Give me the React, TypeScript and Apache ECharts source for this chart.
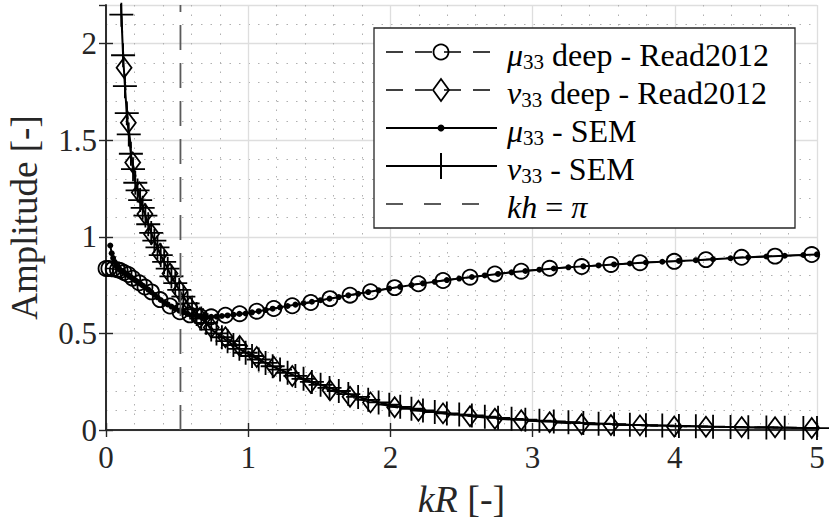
import React, { useEffect, useRef } from "react";
import * as echarts from "echarts";

// ---- data ----
const readX = [0, 0.02, 0.05, 0.08, 0.10, 0.127, 0.157, 0.188, 0.234, 0.274, 0.32, 0.38, 0.45, 0.52, 0.59, 0.66, 0.74, 0.84, 0.94, 1.06, 1.18, 1.31, 1.44, 1.575, 1.716, 1.86, 2.03, 2.197, 2.37, 2.56, 2.735, 2.92, 3.12, 3.345, 3.551, 3.755, 3.996, 4.219, 4.47, 4.705, 4.963];
const readMu = [0.836, 0.836, 0.834, 0.83, 0.826, 0.815, 0.805, 0.786, 0.762, 0.74, 0.715, 0.675, 0.642, 0.612, 0.596, 0.588, 0.586, 0.594, 0.602, 0.615, 0.629, 0.643, 0.66, 0.68, 0.698, 0.716, 0.737, 0.757, 0.774, 0.791, 0.808, 0.822, 0.837, 0.846, 0.857, 0.866, 0.873, 0.882, 0.894, 0.9, 0.908];
const readNu = [null, 8.0, 4.2, 2.9, 2.3, 1.875, 1.59, 1.385, 1.23, 1.118, 1.015, 0.912, 0.81, 0.72, 0.636, 0.58, 0.53, 0.48, 0.435, 0.378, 0.327, 0.28, 0.245, 0.206, 0.172, 0.143, 0.118, 0.10, 0.086, 0.071, 0.058, 0.05, 0.04, 0.03, 0.026, 0.024, 0.018, 0.017, 0.015, 0.014, 0.01];

const semX = [0.030, 0.040, 0.050, 0.060, 0.072, 0.084, 0.096, 0.108, 0.120, 0.133, 0.146, 0.160, 0.175, 0.190, 0.206, 0.222, 0.240, 0.258, 0.277, 0.297, 0.318, 0.340, 0.362, 0.385, 0.409, 0.434, 0.460, 0.487, 0.515, 0.544, 0.574, 0.605, 0.637, 0.670, 0.704, 0.740, 0.777, 0.815, 0.855, 0.896, 0.938, 0.982, 1.027, 1.074, 1.122, 1.172, 1.224, 1.277, 1.332, 1.389, 1.448, 1.509, 1.572, 1.637, 1.704, 1.773, 1.844, 1.917, 1.992, 2.069, 2.148, 2.229, 2.312, 2.397, 2.484, 2.573, 2.664, 2.757, 2.852, 2.949, 3.048, 3.149, 3.252, 3.357, 3.464, 3.573, 3.684, 3.797, 3.912, 4.029, 4.148, 4.269, 4.392, 4.517, 4.644, 4.773, 4.904, 5.0];
const semMu = [0.955, 0.915, 0.89, 0.87, 0.85, 0.838, 0.83, 0.824, 0.818, 0.812, 0.806, 0.799, 0.791, 0.783, 0.775, 0.767, 0.758, 0.748, 0.738, 0.727, 0.714, 0.700, 0.687, 0.673, 0.661, 0.650, 0.639, 0.628, 0.618, 0.609, 0.601, 0.595, 0.590, 0.587, 0.586, 0.586, 0.587, 0.590, 0.593, 0.597, 0.601, 0.603, 0.609, 0.615, 0.621, 0.628, 0.635, 0.642, 0.649, 0.656, 0.664, 0.672, 0.680, 0.688, 0.697, 0.705, 0.714, 0.723, 0.732, 0.741, 0.750, 0.759, 0.767, 0.776, 0.784, 0.792, 0.800, 0.808, 0.816, 0.823, 0.830, 0.836, 0.842, 0.847, 0.852, 0.857, 0.862, 0.867, 0.871, 0.875, 0.879, 0.884, 0.889, 0.894, 0.898, 0.902, 0.906, 0.909];
const semNu = [7.5, 5.6, 4.5, 3.8, 3.2, 2.75, 2.42, 2.15, 1.94, 1.78, 1.64, 1.53, 1.43, 1.35, 1.28, 1.24, 1.19, 1.15, 1.11, 1.065, 1.02, 0.98, 0.945, 0.905, 0.87, 0.835, 0.795, 0.76, 0.725, 0.69, 0.655, 0.625, 0.60, 0.577, 0.555, 0.52, 0.50, 0.48, 0.46, 0.44, 0.42, 0.40, 0.383, 0.365, 0.347, 0.33, 0.313, 0.296, 0.28, 0.265, 0.249, 0.234, 0.218, 0.202, 0.186, 0.171, 0.156, 0.143, 0.131, 0.12, 0.11, 0.101, 0.093, 0.086, 0.08, 0.075, 0.069, 0.063, 0.058, 0.053, 0.048, 0.044, 0.04, 0.036, 0.033, 0.030, 0.027, 0.025, 0.023, 0.021, 0.019, 0.017, 0.016, 0.014, 0.013, 0.012, 0.011, 0.010];

const khValue = [0.5236]; // kh = pi  ->  kR = pi/6
const khRange = [0, 2.2];

const xTicks = { min: 0, max: 5, interval: 1 };
const yTicks = { min: 0, max: 2.2, interval: 0.5 };

const legendNames = [
  "μ33 deep - Read2012",
  "ν33 deep - Read2012",
  "μ33 - SEM",
  "ν33 - SEM",
  "kh = π",
];

const FONT = "Liberation Serif";
const INK = "#262626";

function zip(xs: number[], ys: (number | null)[]) {
  return xs.map((x, i) => [x, ys[i]]);
}

export default function App() {
  const ref = useRef<HTMLDivElement>(null);

  useEffect(() => {
    if (!ref.current) return;
    const chart = echarts.init(ref.current, null, { renderer: "svg" });

    const plusPath = "path://M12,0 L12,24 M0,12 L24,12";

    const axisCommon = {
      type: "value" as const,
      axisLine: { show: true, lineStyle: { color: INK, width: 1.6 } },
      axisTick: { show: true, inside: true, length: 7, lineStyle: { color: INK, width: 1.4 } },
    };

    const rowY = [52, 90, 128, 166, 204];
    const iconX0 = 386;
    const iconX1 = 497;
    const mX = 441;
    const textX = 507;
    const LF = 32;

    const legendRich = {
      i: { fontStyle: "italic", fontFamily: FONT, fontSize: LF, lineHeight: 34, fill: "#000" },
      s: { fontFamily: FONT, fontSize: 21, lineHeight: 16, verticalAlign: "bottom", fill: "#000" },
      n: { fontFamily: FONT, fontSize: LF, lineHeight: 34, fill: "#000" },
    };
    const legendTexts = [
      "{i|μ}{s|33}{n| deep - Read2012}",
      "{i|ν}{s|33}{n| deep - Read2012}",
      "{i|μ}{s|33}{n| - SEM}",
      "{i|ν}{s|33}{n| - SEM}",
      "{i|kh}{n| = }{i|π}",
    ];

    const graphicEls: any[] = [
      {
        type: "rect",
        z: 10,
        shape: { x: 374, y: 28, width: 421, height: 200 },
        style: { fill: "#fff", stroke: INK, lineWidth: 1.3 },
      },
      { type: "line", z: 11, shape: { x1: iconX0, y1: rowY[0], x2: iconX1, y2: rowY[0] }, style: { stroke: "#000", lineWidth: 1.6, lineDash: [17, 12] } },
      { type: "circle", z: 11, shape: { cx: mX, cy: rowY[0], r: 7.5 }, style: { fill: "none", stroke: "#000", lineWidth: 1.8 } },
      { type: "line", z: 11, shape: { x1: iconX0, y1: rowY[1], x2: iconX1, y2: rowY[1] }, style: { stroke: "#000", lineWidth: 1.6, lineDash: [17, 12] } },
      { type: "polygon", z: 11, shape: { points: [[mX, rowY[1] - 11], [mX + 8, rowY[1]], [mX, rowY[1] + 11], [mX - 8, rowY[1]]] }, style: { fill: "none", stroke: "#000", lineWidth: 1.8 } },
      { type: "line", z: 11, shape: { x1: iconX0, y1: rowY[2], x2: iconX1, y2: rowY[2] }, style: { stroke: "#000", lineWidth: 2 } },
      { type: "circle", z: 11, shape: { cx: mX, cy: rowY[2], r: 3.5 }, style: { fill: "#000" } },
      { type: "line", z: 11, shape: { x1: iconX0, y1: rowY[3], x2: iconX1, y2: rowY[3] }, style: { stroke: "#000", lineWidth: 2 } },
      { type: "line", z: 11, shape: { x1: mX, y1: rowY[3] - 13, x2: mX, y2: rowY[3] + 13 }, style: { stroke: "#000", lineWidth: 2 } },
      { type: "line", z: 11, shape: { x1: iconX0, y1: rowY[4], x2: iconX1 - 17, y2: rowY[4] }, style: { stroke: "#5a5a5a", lineWidth: 1.8, lineDash: [17, 21] } },
    ];
    legendTexts.forEach((t, k) => {
      graphicEls.push({
        type: "text",
        z: 12,
        x: textX,
        y: rowY[k] + 3,
        style: {
          text: t,
          rich: legendRich,
          fontFamily: FONT,
          fontSize: LF,
          fill: "#000",
          verticalAlign: "middle",
          align: "left",
        },
      });
    });

    chart.setOption({
      animation: false,
      backgroundColor: "#fff",
      textStyle: { fontFamily: FONT },
      grid: { left: 106, top: 5, right: 13, bottom: 97, containLabel: false, outerBoundsMode: "none" },
      xAxis: [
        {
          ...axisCommon,
          position: "bottom",
          ...xTicks,
          name: "{i|kR}{n| [-]}",
          nameLocation: "middle",
          nameGap: 50,
          nameTextStyle: {
            fontFamily: FONT,
            fontSize: 38,
            color: INK,
            rich: {
              i: { fontStyle: "italic", fontFamily: FONT, fontSize: 38, color: INK },
              n: { fontFamily: FONT, fontSize: 38, color: INK },
            },
          },
          axisLabel: { fontFamily: FONT, fontSize: 31, color: INK, margin: 12 },
          splitLine: { show: true, lineStyle: { color: "#dedede", width: 1.3 } },
          minorTick: { show: false, splitNumber: 5 },
          minorSplitLine: { show: true, lineStyle: { color: "#b0b0b0", width: 1, type: [1.5, 8] } },
        },
        {
          ...axisCommon,
          position: "top",
          ...xTicks,
          axisLabel: { show: false },
          splitLine: { show: false },
        },
      ],
      yAxis: [
        {
          ...axisCommon,
          position: "left",
          ...yTicks,
          name: "Amplitude [-]",
          nameLocation: "middle",
          nameGap: 63,
          nameTextStyle: { fontFamily: FONT, fontSize: 37, color: INK },
          axisLabel: { fontFamily: FONT, fontSize: 31, color: INK, margin: 9, showMaxLabel: false },
          splitLine: { show: true, lineStyle: { color: "#dedede", width: 1.3 } },
          minorTick: { show: false, splitNumber: 5 },
          minorSplitLine: { show: true, lineStyle: { color: "#b0b0b0", width: 1, type: [1.5, 8] } },
        },
        {
          ...axisCommon,
          position: "right",
          ...yTicks,
          axisLabel: { show: false },
          splitLine: { show: false },
        },
      ],
      series: [
        {
          name: legendNames[0],
          type: "line",
          data: zip(readX, readMu),
          symbol: "circle",
          symbolSize: 15,
          showAllSymbol: true,
          lineStyle: { color: "#000", width: 1.5, type: [17, 12] },
          itemStyle: { color: "rgba(0,0,0,0)", borderColor: "#000", borderWidth: 1.8 },
          z: 3,
        },
        {
          name: legendNames[1],
          type: "line",
          data: zip(readX, readNu),
          symbol: "diamond",
          symbolSize: [15, 20],
          showAllSymbol: true,
          lineStyle: { color: "#000", width: 1.5, type: [17, 12] },
          itemStyle: { color: "rgba(0,0,0,0)", borderColor: "#000", borderWidth: 1.8 },
          z: 3,
        },
        {
          name: legendNames[2],
          type: "line",
          data: zip(semX, semMu),
          symbol: "circle",
          symbolSize: 6,
          showAllSymbol: true,
          lineStyle: { color: "#000", width: 2 },
          itemStyle: { color: "#000", borderWidth: 0 },
          z: 4,
        },
        {
          name: legendNames[3],
          type: "line",
          data: zip(semX, semNu),
          symbol: plusPath,
          symbolSize: 24,
          showAllSymbol: true,
          lineStyle: { color: "#000", width: 2 },
          itemStyle: { color: "rgba(0,0,0,0)", borderColor: "#000", borderWidth: 1.8 },
          z: 4,
        },
        {
          name: legendNames[4],
          type: "line",
          data: khRange.map((y) => [khValue[0], y]),
          symbol: "none",
          lineStyle: { color: "#5a5a5a", width: 1.8, type: [25, 13] },
          z: 5,
        },
      ],
      graphic: graphicEls,
    });

    return () => chart.dispose();
  }, []);

  return (
    <div
      ref={ref}
      style={{ position: "fixed", left: 0, top: 0, width: 830, height: 527, background: "#fff" }}
    />
  );
}
